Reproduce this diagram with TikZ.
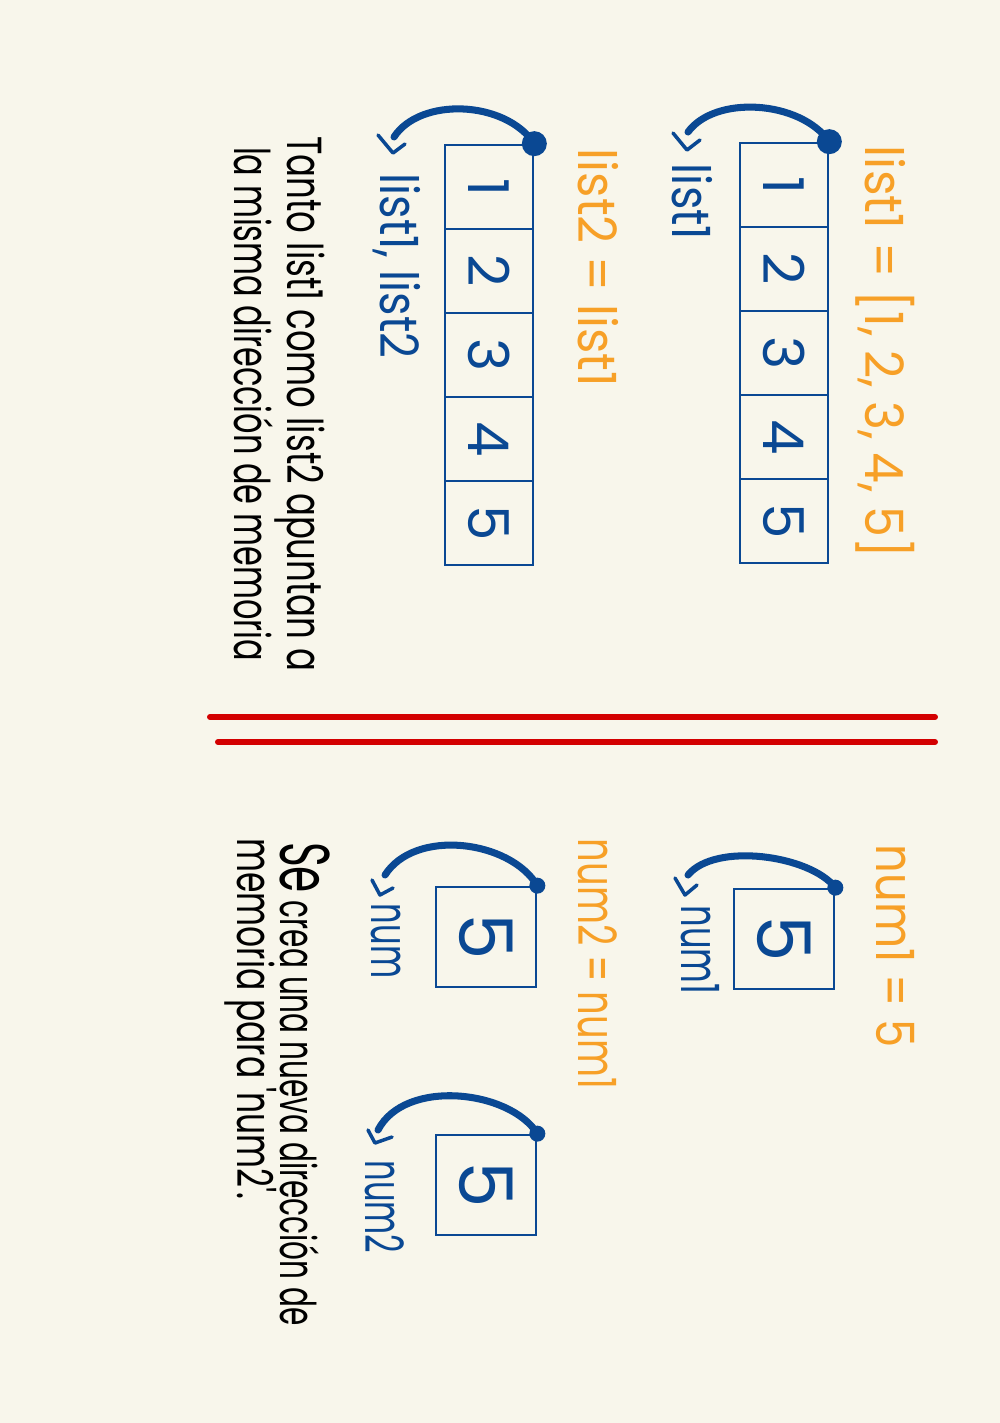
\documentclass[tikz,border=0pt]{standalone}
\usepackage{fontspec}
\setmainfont{Poppins}
\usepackage{graphicx}
\definecolor{bg}{HTML}{F8F6EB}
\definecolor{ink}{HTML}{0A4893}
\definecolor{ora}{HTML}{F7A027}
\definecolor{redl}{HTML}{D30000}
\newcommand\vtext[2]{\rotatebox{-90}{\scalebox{#1}[1]{#2}}}
\begin{document}
\begin{tikzpicture}[x=0.01cm,y=-0.01cm,
  cell/.style={draw=ink, line width=0.75pt, minimum width=0.88cm, minimum height=0.84cm,
    inner sep=0pt, text=ink, font=\fontsize{16}{16}\selectfont},
  numbox/.style={draw=ink, line width=0.75pt, minimum width=1.0cm, minimum height=1.0cm,
    inner sep=0pt, text=ink, font=\fontsize{21}{21}\selectfont},
  dotbig/.style={circle, fill=ink, inner sep=0pt, minimum size=0.25cm},
  dotsmall/.style={circle, fill=ink, inner sep=0pt, minimum size=0.16cm},
  pointer/.style={draw=ink, line width=2pt, line cap=round},
  chev/.style={draw=ink, line width=1pt, line cap=round, line join=round},
  oratext/.style={inner sep=0pt, text=ora, font=\fontsize{15}{15}\selectfont},
  bluetext/.style={inner sep=0pt, text=ink, font=\fontsize{15}{15}\selectfont},
  blacktext/.style={inner sep=0pt, text=black, font=\fontsize{14}{14}\selectfont},
  redline/.style={draw=redl, line width=1.7pt, line cap=round}]
\fill[bg] (0,0) rectangle (1000,1423);
\useasboundingbox (0,0) rectangle (1000,1423);

% ---------- top half: lists ----------
\node[oratext] (code1) at (885,352) {\vtext{0.93}{list1 = [1, 2, 3, 4, 5]}};
\node[oratext] (code2) at (598,268) {\vtext{0.92}{list2 = list1}};

\node[cell] (a1) at (784,185) {\rotatebox{-90}{1}};
\node[cell] (a2) at (784,269) {\rotatebox{-90}{2}};
\node[cell] (a3) at (784,353) {\rotatebox{-90}{3}};
\node[cell] (a4) at (784,437) {\rotatebox{-90}{4}};
\node[cell] (a5) at (784,521) {\rotatebox{-90}{5}};

\node[cell] (b1) at (489,187) {\rotatebox{-90}{1}};
\node[cell] (b2) at (489,271) {\rotatebox{-90}{2}};
\node[cell] (b3) at (489,355) {\rotatebox{-90}{3}};
\node[cell] (b4) at (489,439) {\rotatebox{-90}{4}};
\node[cell] (b5) at (489,523) {\rotatebox{-90}{5}};

\node[dotbig] (d1) at (a1.north east) {};
\node[dotbig] (d2) at (b1.north east) {};

\node[bluetext] (l1) at (692,202) {\vtext{0.85}{list1}};
\node[bluetext] (l2) at (397,266) {\vtext{0.85}{list1, list2}};

\coordinate (e1) at (688,132);
\coordinate (e2) at (394,137);
\draw[pointer] (d1.center) .. controls (800,100) and (715,95) .. (e1);
\draw[pointer] (d2.center) .. controls (505,100) and (420,97) .. (e2);
\draw[chev] (e1) ++(-15,1) -- ++(14,17) -- ++(13,-10);
\draw[chev] (e2) ++(-16,-2) -- ++(15,18) -- ++(12,-9);

\node[blacktext] (n1) at (300,404) {\vtext{0.69}{Tanto list1 como list2 apuntan a}};
\node[blacktext] (n2) at (254,404) {\vtext{0.65}{la misma dirección de memoria}};

% ---------- separator ----------
\draw[redline] (210,717) -- (935,717);
\draw[redline] (218,742) -- (935,742);

% ---------- bottom half: numbers ----------
\node[oratext] (code3) at (895,946) {\vtext{0.85}{num1 = 5}};
\node[oratext] (code4) at (598,964) {\vtext{0.7}{num2 = num1}};

\node[numbox] (c1) at (784,939) {\rotatebox{-90}{5}};
\node[numbox] (c2) at (486,937) {\rotatebox{-90}{5}};
\node[numbox] (c3) at (486,1185) {\rotatebox{-90}{5}};

\node[dotsmall] (d3) at (c1.north east) {};
\node[dotsmall] (d4) at (c2.north east) {};
\node[dotsmall] (d5) at (c3.north east) {};

\node[bluetext] (l3) at (700,950) {\vtext{0.64}{num1}};
\node[bluetext] (l4) at (386,941) {\vtext{0.61}{num}};
\node[bluetext] (l5) at (385,1207) {\vtext{0.61}{num2}};

\coordinate (e3) at (688,875);
\coordinate (e4) at (385,875);
\coordinate (e5) at (378,1130);
\draw[pointer] (d3.center) .. controls (810,855) and (715,842) .. (e3);
\draw[pointer] (d4.center) .. controls (510,840) and (415,828) .. (e4);
\draw[pointer] (d5.center) .. controls (510,1090) and (405,1078) .. (e5);
\draw[chev] (e3) ++(-13,3) -- ++(10,17) -- ++(12,-10);
\draw[chev] (e4) ++(-13,5) -- ++(8,15) -- ++(13,-7);
\draw[chev] (e5) ++(-10,0) -- ++(7,13) -- ++(17,-6);

\node[blacktext] (n3) at (305,1084) {\vtext{0.6}{{\fontsize{20}{20}\selectfont Se} crea una nueva dirección de}};
\node[blacktext] (n4) at (251,1019) {\vtext{0.67}{memoria para \textquotesingle num2\textquotesingle .}};
\end{tikzpicture}
\end{document}
